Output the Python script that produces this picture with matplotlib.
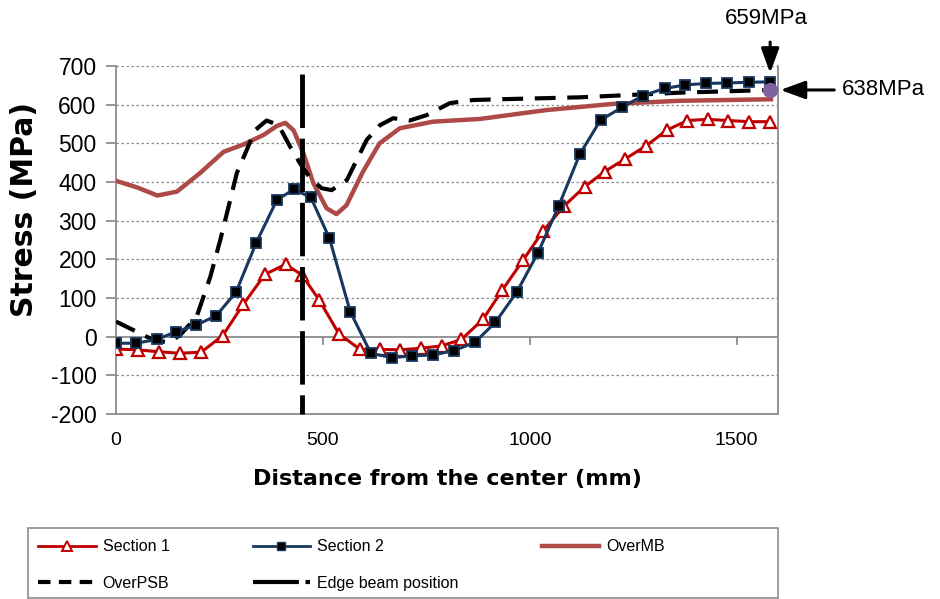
import matplotlib
matplotlib.use("Agg")
import matplotlib.pyplot as plt
from matplotlib.lines import Line2D
from matplotlib.patches import Rectangle

plt.rcParams['font.family'] = ['Liberation Sans', 'DejaVu Sans']
plt.rcParams['axes.unicode_minus'] = False

# ---------------- data ----------------
s1_x = [0, 52, 103, 154, 206, 258, 308, 360, 410, 449, 491, 539, 590, 638, 686, 736, 787,
        835, 887, 934, 984, 1032, 1083, 1133, 1181, 1231, 1282, 1331, 1381, 1430, 1480, 1531, 1580]
s1_y = [-32, -34, -39, -43, -40, 3, 84, 161, 187, 160, 95, 7, -33, -33, -34, -30, -24,
        -7, 45, 121, 198, 273, 338, 388, 427, 460, 494, 534, 559, 562, 559, 556, 556]

s2_x = [0, 49, 99, 146, 194, 242, 290, 339, 389, 430, 471, 516, 566, 616, 666, 716, 767,
        817, 867, 917, 969, 1020, 1070, 1121, 1171, 1223, 1273, 1326, 1376, 1426, 1477, 1529, 1581]
s2_y = [-17, -17, -7, 13, 30, 54, 115, 243, 354, 381, 360, 254, 65, -43, -54, -50, -47,
        -36, -15, 37, 116, 217, 338, 472, 560, 593, 623, 642, 651, 655, 656, 658, 659]

mb_x = [0, 51, 100, 147, 203, 260, 308, 357, 389, 409, 429, 453, 477, 509, 533, 557, 597,
        637, 686, 766, 879, 1040, 1201, 1362, 1583]
mb_y = [403, 386, 365, 375, 423, 478, 497, 522, 545, 553, 534, 474, 397, 332, 317, 340, 427,
        500, 539, 556, 563, 586, 602, 610, 614]

psb_x = [0, 42, 91, 127, 155, 195, 228, 252, 272, 292, 316, 336, 364, 393, 421, 445, 469,
         497, 521, 558, 586, 606, 638, 670, 710, 751, 807, 863, 928, 1121, 1362, 1583]
psb_y = [39, 17, -9, -15, 4, 52, 155, 250, 336, 423, 483, 534, 559, 547, 491, 448, 410,
         384, 379, 405, 466, 509, 547, 565, 559, 573, 604, 612, 614, 619, 631, 638]

edge_x = [450, 450]
edge_y = [680, -200]

peak_x, peak_s2, peak_psb = 1581, 659, 638
x_ticks = [0, 500, 1000, 1500]
y_ticks = [-200, -100, 0, 100, 200, 300, 400, 500, 600, 700]

# ---------------- figure ----------------
fig = plt.figure(figsize=(9.40, 5.99), dpi=100)
ax = fig.add_axes([116/940, 1-414/599, (778-116)/940, (414-66)/599])
ax.set_xlim(0, 1600)
ax.set_ylim(-200, 700)

grid_c = '#8c8c8c'
for t in y_ticks:
    if t not in (0, -200):
        ax.axhline(t, color=grid_c, lw=0.9, ls=(0, (2, 2)), zorder=0)
ax.axhline(0, color=grid_c, lw=1.3, zorder=1)
for t in x_ticks[1:]:
    ax.plot([t, t], [0, -20], color=grid_c, lw=1.3, zorder=1, clip_on=False)

for side in ['left', 'right', 'bottom']:
    ax.spines[side].set_color(grid_c)
    ax.spines[side].set_linewidth(1.3)
ax.spines['top'].set_visible(False)

ax.set_xticks(x_ticks)
ax.set_yticks(y_ticks)
ax.tick_params(axis='x', length=0, pad=13, labelsize=14)
ax.tick_params(axis='y', length=7, width=1.3, color=grid_c, pad=7, labelsize=16.5)

c1 = '#C00000'
c2 = '#17375E'
cmb = '#AD4A47'

ax.plot(mb_x, mb_y, color=cmb, lw=3.2, zorder=3)
ax.plot(psb_x, psb_y, color='black', lw=3, dashes=(5, 2.8), zorder=4)
ax.plot(s1_x, s1_y, color=c1, lw=2.2, marker='^', ms=8, mfc='white', mec=c1, mew=1.6, zorder=5)
ax.plot(s2_x, s2_y, color=c2, lw=2.2, marker='s', ms=7, mfc='black', mec=c2, mew=1.3, zorder=6)
ax.plot(edge_x, edge_y, color='black', lw=3.5, dashes=(11, 2.2), zorder=7, clip_on=False)
ax.plot([peak_x], [peak_psb], marker='o', ms=10, color='#7F63A1', zorder=8, clip_on=False)

ax.set_ylabel('Stress (MPa)', fontsize=21.5, fontweight='bold',
              family=['DejaVu Sans'])
ax.yaxis.set_label_coords(-0.117, 0.589)
ax.set_xlabel('Distance from the center (mm)', fontsize=16, fontweight='bold', labelpad=14,
              family=['DejaVu Sans'])

# annotations
arrow_kw = dict(arrowstyle='-|>,head_length=0.6,head_width=0.22', color='black', lw=2.2,
                mutation_scale=25, shrinkA=0, shrinkB=0)
ax.annotate('', xy=(peak_x, peak_s2 + 23), xytext=(peak_x, peak_s2 + 103),
            arrowprops=arrow_kw, annotation_clip=False)
ax.text(peak_x - 10, peak_s2 + 165, '659MPa', fontsize=16, ha='center', va='center')
ax.annotate('', xy=(peak_x + 25, peak_psb), xytext=(peak_x + 155, peak_psb),
            arrowprops=arrow_kw, annotation_clip=False)
ax.text(peak_x + 174, peak_psb, '638MPa', fontsize=16, ha='left', va='center')

# legend
handles = [
    Line2D([], [], color=c1, lw=2, marker='^', ms=7, mfc='white', mec=c1, mew=1.4),
    Line2D([], [], color='black', lw=3, dashes=(3, 2)),
    Line2D([], [], color=c2, lw=2, marker='s', ms=6, mfc='black', mec=c2),
    Line2D([], [], color='black', lw=3, dashes=(11, 1.6)),
    Line2D([], [], color=cmb, lw=3.2),
]
labels = ['Section 1', 'OverPSB', 'Section 2', 'Edge beam position', 'OverMB']
leg = fig.legend(handles, labels, ncol=3, loc='center left',
                 bbox_to_anchor=(38/940, 1-565/599), fontsize=11.5, frameon=False,
                 handlelength=3.6, handletextpad=0.45, columnspacing=5.2,
                 borderpad=0, borderaxespad=0, labelspacing=1.35)
fig.patches.append(Rectangle((28/940, 1/599), 750/940, 70/599, transform=fig.transFigure,
                             fill=False, ec=grid_c, lw=1.2))

fig.savefig('out.png', dpi=100)
